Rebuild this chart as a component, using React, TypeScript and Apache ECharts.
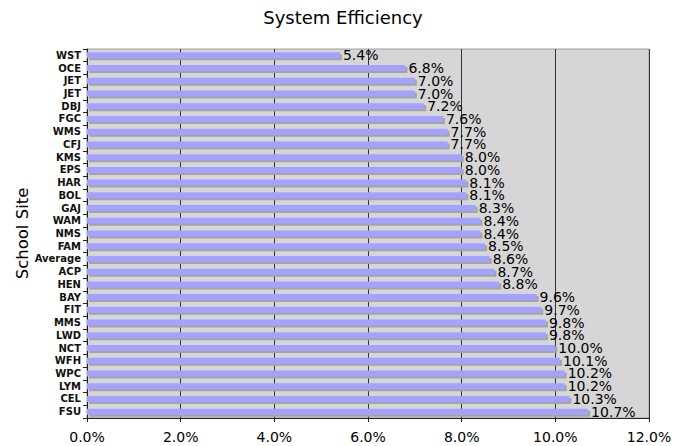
import React, { useEffect, useRef } from "react";
import * as echarts from "echarts";

const titleText = "System Efficiency";
const yAxisTitle = "School Site";
const sites = [
  "WST", "OCE", "JET", "JET", "DBJ", "FGC", "WMS", "CFJ", "KMS", "EPS",
  "HAR", "BOL", "GAJ", "WAM", "NMS", "FAM", "Average", "ACP", "HEN", "BAY",
  "FIT", "MMS", "LWD", "NCT", "WFH", "WPC", "LYM", "CEL", "FSU",
];
const efficiency = [
  5.4, 6.8, 7.0, 7.0, 7.2, 7.6, 7.7, 7.7, 8.0, 8.0,
  8.1, 8.1, 8.3, 8.4, 8.4, 8.5, 8.6, 8.7, 8.8, 9.6,
  9.7, 9.8, 9.8, 10.0, 10.1, 10.2, 10.2, 10.3, 10.7,
];
const xMin = 0;
const xMax = 12;
const xStep = 2;

const FONT = "'DejaVu Sans', Verdana, sans-serif";

export default function App() {
  const ref = useRef<HTMLDivElement>(null);
  useEffect(() => {
    if (!ref.current) return;
    const chart = echarts.init(ref.current, null, { renderer: "svg" });
    chart.setOption({
      animation: false,
      backgroundColor: "#ffffff",
      title: {
        text: titleText,
        left: 338,
        textAlign: "center",
        top: 3,
        textStyle: { fontFamily: FONT, fontSize: 18, fontWeight: "normal", color: "#000" },
      },
      grid: {
        left: 87,
        right: 43,
        top: 49,
        bottom: 28,
        show: true,
        backgroundColor: "#d6d6d6",
        borderColor: "#a0a0a0",
        borderWidth: 1,
      },
      xAxis: {
        type: "value",
        min: xMin,
        max: xMax,
        interval: xStep,
        axisLine: { show: true, lineStyle: { color: "#222", width: 1 } },
        axisTick: { show: true, length: 4, lineStyle: { color: "#222" } },
        axisLabel: {
          margin: 12,
          fontFamily: FONT,
          fontSize: 14,
          color: "#000",
          formatter: (v: number) => v.toFixed(1) + "%",
        },
        splitLine: { show: true, lineStyle: { color: "#333", width: 1 } },
      },
      yAxis: {
        type: "category",
        inverse: true,
        data: sites,
        name: yAxisTitle,
        nameLocation: "middle",
        nameGap: 56,
        nameRotate: 90,
        nameMoveOverlap: false,
        nameTextStyle: { fontFamily: FONT, fontSize: 16.5, color: "#000" },
        axisLine: { show: true, lineStyle: { color: "#222", width: 1 } },
        axisTick: { show: true, length: 4, interval: 0, lineStyle: { color: "#222" } },
        axisLabel: {
          interval: 0,
          margin: 6,
          fontFamily: FONT,
          fontSize: 10,
          fontWeight: "bold",
          color: "#111",
        },
        splitLine: { show: false },
      },
      series: [
        {
          type: "bar",
          data: efficiency,
          barWidth: 6,
          itemStyle: {
            color: "#a3a3ff",
            shadowColor: "#a4a4a4",
            shadowBlur: 0,
            shadowOffsetX: 2,
            shadowOffsetY: 2,
          },
          label: {
            show: true,
            position: "right",
            distance: 3,
            fontFamily: FONT,
            fontSize: 14,
            color: "#000",
            formatter: (p: any) => Number(p.value).toFixed(1) + "%",
          },
        },
      ],
    });
    return () => chart.dispose();
  }, []);
  return (
    <div
      ref={ref}
      style={{ position: "fixed", left: 0, top: 0, width: 692, height: 446 }}
    />
  );
}
